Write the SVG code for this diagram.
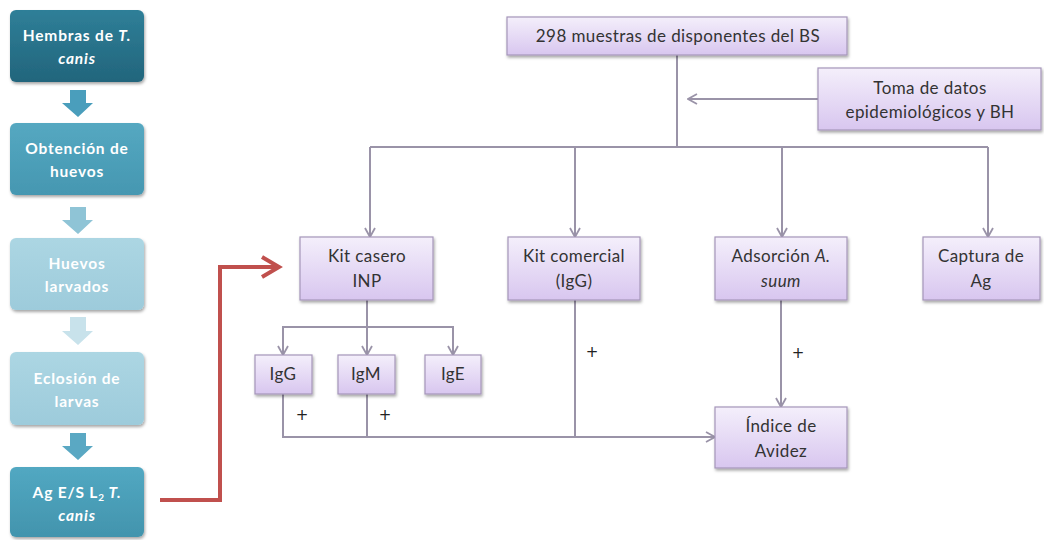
<svg xmlns="http://www.w3.org/2000/svg" width="1044" height="540" viewBox="0 0 1044 540">
<defs>
<linearGradient id="lav" x1="0" y1="0" x2="0" y2="1">
<stop offset="0" stop-color="#f4effb"/><stop offset="1" stop-color="#d8c6ef"/>
</linearGradient>
<linearGradient id="t1" x1="0" y1="0" x2="0" y2="1"><stop offset="0" stop-color="#2f7f98"/><stop offset="1" stop-color="#22657c"/></linearGradient>
<linearGradient id="t2" x1="0" y1="0" x2="0" y2="1"><stop offset="0" stop-color="#55a8c1"/><stop offset="1" stop-color="#4597b1"/></linearGradient>
<linearGradient id="t3" x1="0" y1="0" x2="0" y2="1"><stop offset="0" stop-color="#acd6e3"/><stop offset="1" stop-color="#9dcbdb"/></linearGradient>
<linearGradient id="t5" x1="0" y1="0" x2="0" y2="1"><stop offset="0" stop-color="#52a8c2"/><stop offset="1" stop-color="#4294ad"/></linearGradient>
<filter id="sh" x="-10%" y="-10%" width="125%" height="135%">
<feDropShadow dx="1" dy="2" stdDeviation="1.5" flood-color="#000" flood-opacity="0.35"/>
</filter>
<marker id="ah" viewBox="0 0 12 12" refX="11" refY="6" markerWidth="12" markerHeight="12" markerUnits="userSpaceOnUse" orient="auto">
<polyline points="2,1 11,6 2,11" fill="none" stroke="#9a93a8" stroke-width="1.8"/>
</marker>
</defs>
<style>
.nb{fill:url(#lav);stroke:#a596b9;stroke-width:1.2;filter:url(#sh)}
.nt{font-family:Lato,"Open Sans",sans-serif;font-size:17px;letter-spacing:0.4px;fill:#333333;text-anchor:middle}
.lt{font-family:Lato,"Open Sans",sans-serif;font-size:15.5px;letter-spacing:0.8px;font-weight:bold;fill:#ffffff;text-anchor:middle}
.cn{fill:none;stroke:#9a93a8;stroke-width:2}
.pl{font-family:"DejaVu Sans",sans-serif;font-size:15px;fill:#222222;text-anchor:middle}
</style>
<rect width="1044" height="540" fill="#ffffff"/>

<g id="left-flow">
<g id="n-hembras"><rect x="10" y="10" width="134" height="72" rx="6" fill="url(#t1)" filter="url(#sh)"/>
<text class="lt" x="77" y="41">Hembras de <tspan font-style="italic">T.</tspan></text>
<text class="lt" x="77" y="64" font-style="italic">canis</text></g>
<path d="M70,90 H86 V103 H93 L78,117 L62,103 H70 Z" fill="#4a9ebc"/>
<g id="n-obtencion"><rect x="10" y="123" width="134" height="72" rx="6" fill="url(#t2)" filter="url(#sh)"/>
<text class="lt" x="77" y="154">Obtención de</text>
<text class="lt" x="77" y="177">huevos</text></g>
<path d="M70,207 H86 V220 H93 L78,234 L62,220 H70 Z" fill="#8fc4d6"/>
<g id="n-larvados"><rect x="10" y="238" width="134" height="72" rx="6" fill="url(#t3)" filter="url(#sh)"/>
<text class="lt" x="77" y="269">Huevos</text>
<text class="lt" x="77" y="292">larvados</text></g>
<path d="M70,317 H86 V331 H93 L78,345 L62,331 H70 Z" fill="#c8e2eb"/>
<g id="n-eclosion"><rect x="10" y="352" width="134" height="73" rx="6" fill="url(#t3)" filter="url(#sh)"/>
<text class="lt" x="77" y="384">Eclosión de</text>
<text class="lt" x="77" y="407">larvas</text></g>
<path d="M70,433 H86 V446 H93 L78,460 L62,446 H70 Z" fill="#5aa8c3"/>
<g id="n-ag"><rect x="10" y="467" width="134" height="70" rx="6" fill="url(#t5)" filter="url(#sh)"/>
<text class="lt" x="77" y="498">Ag E/S L<tspan font-size="10" dy="3">2</tspan><tspan dy="-3" font-style="italic"> T.</tspan></text>
<text class="lt" x="77" y="521" font-style="italic">canis</text></g>
</g>

<g id="connectors">
<path d="M160,500 H220 V267 H278" fill="none" stroke="#c0504d" stroke-width="4"/>
<polyline points="262,257 279,267 262,277" fill="none" stroke="#c0504d" stroke-width="4"/>
<path class="cn" d="M677,55 V147"/>
<path class="cn" d="M370,147 H988"/>
<path class="cn" d="M818,99 H688" marker-end="url(#ah)"/>
<path class="cn" d="M370,147 V237" marker-end="url(#ah)"/>
<path class="cn" d="M575,147 V237" marker-end="url(#ah)"/>
<path class="cn" d="M782,147 V237" marker-end="url(#ah)"/>
<path class="cn" d="M988,147 V237" marker-end="url(#ah)"/>
<path class="cn" d="M367,300 V355" marker-end="url(#ah)"/>
<path class="cn" d="M367,327 H283 V355" marker-end="url(#ah)"/>
<path class="cn" d="M367,327 H453 V355" marker-end="url(#ah)"/>
<path class="cn" d="M283,394 V437 H715" marker-end="url(#ah)"/>
<path class="cn" d="M367,394 V437"/>
<path class="cn" d="M575,300 V437"/>
<path class="cn" d="M781,300 V407" marker-end="url(#ah)"/>
<text class="pl" x="302" y="420">+</text>
<text class="pl" x="385" y="420">+</text>
<text class="pl" x="592" y="357">+</text>
<text class="pl" x="798" y="358">+</text>
</g>

<g id="n-muestras"><rect class="nb" x="507" y="17" width="340" height="38"/>
<text class="nt" x="678" y="42" font-size="18">298 muestras de disponentes del BS</text></g>
<g id="n-toma"><rect class="nb" x="818" y="68" width="223" height="62"/>
<text class="nt" x="930" y="94">Toma de datos</text>
<text class="nt" x="930" y="118">epidemiológicos y BH</text></g>
<g id="n-kitcasero"><rect class="nb" x="300" y="237" width="133" height="63"/>
<text class="nt" x="367" y="262">Kit casero</text>
<text class="nt" x="367" y="287">INP</text></g>
<g id="n-kitcomercial"><rect class="nb" x="508" y="237" width="132" height="63"/>
<text class="nt" x="574" y="262">Kit comercial</text>
<text class="nt" x="574" y="287">(IgG)</text></g>
<g id="n-adsorcion"><rect class="nb" x="715" y="237" width="132" height="63"/>
<text class="nt" x="781" y="262">Adsorción <tspan font-style="italic">A.</tspan></text>
<text class="nt" x="781" y="287" font-style="italic">suum</text></g>
<g id="n-captura"><rect class="nb" x="923" y="237" width="117" height="63"/>
<text class="nt" x="981" y="262">Captura de</text>
<text class="nt" x="981" y="287">Ag</text></g>
<g id="n-igg"><rect class="nb" x="255" y="355" width="57" height="39"/>
<text class="nt" x="283" y="380">IgG</text></g>
<g id="n-igm"><rect class="nb" x="338" y="355" width="57" height="39"/>
<text class="nt" x="366" y="380">IgM</text></g>
<g id="n-ige"><rect class="nb" x="425" y="355" width="56" height="39"/>
<text class="nt" x="453" y="380">IgE</text></g>
<g id="n-indice"><rect class="nb" x="715" y="407" width="132" height="61"/>
<text class="nt" x="781" y="432">Índice de</text>
<text class="nt" x="781" y="457">Avidez</text></g>
</svg>
